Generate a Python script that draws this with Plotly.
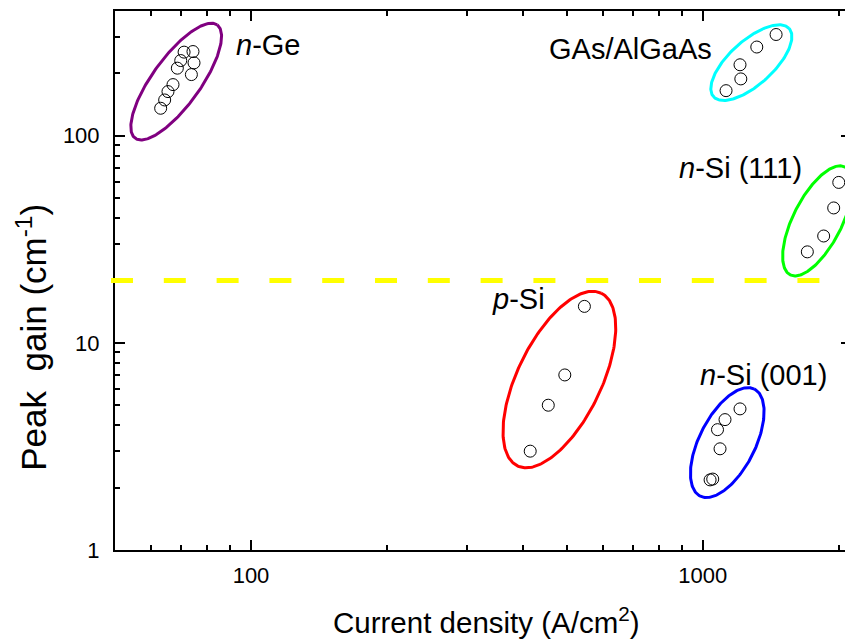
import numpy as np
import plotly.graph_objects as go

# ---------------- data ----------------
nge_x = [63.1, 64.4, 65.5, 67.2, 68.7, 69.9, 71.1, 74.4, 74.8, 73.8]
nge_y = [135.7, 148.8, 163.3, 176.5, 211.9, 230.6, 253.2, 254.9, 224.7, 197.3]
gaas_x = [1126, 1214, 1209, 1317, 1453]
gaas_y = [165, 188, 220, 268, 308]
nsi111_x = [1704, 1852, 1949, 2000]
nsi111_y = [27.5, 32.8, 44.8, 59.5]
psi_x = [415, 455, 495, 547]
psi_y = [3, 5, 7, 15]
nsi001_x = [1038, 1052, 1092, 1078, 1120, 1209]
nsi001_y = [2.18, 2.20, 3.08, 3.81, 4.26, 4.80]

threshold_gain = 20

x_ticks = [100, 1000]
x_ticktext = ["100", "1000"]
x_minor = [60, 70, 80, 90, 200, 300, 400, 500, 600, 700, 800, 900, 2000]
y_ticks = [1, 10, 100]
y_ticktext = ["1", "10", "100"]
y_minor = [2, 3, 4, 5, 6, 7, 8, 9, 20, 30, 40, 50, 60, 70, 80, 90, 200, 300]

# group ellipses: centre (data), semi-axes (px), tilt (deg), colour
groups = [
    dict(x=nge_x, y=nge_y, c=(68.3, 182.5), a=70, b=24, ang=54, col="#800080",
         label="<i>n</i>-Ge", lx=91.7, ly=274.7),
    dict(x=gaas_x, y=gaas_y, c=(1281, 225.3), a=51, b=22, ang=42, col="#00FFFF",
         label="GAs/AlGaAs", lx=452.4, ly=263.6),
    dict(x=nsi111_x, y=nsi111_y, c=(1795, 38.8), a=60.5, b=24.4, ang=63, col="#00FF00",
         label="<i>n</i>-Si (111)", lx=877.5, ly=69.8),
    dict(x=psi_x, y=psi_y, c=(481.5, 6.65), a=96, b=42, ang=64, col="#FF0000",
         label="<i>p</i>-Si", lx=338.1, ly=16.2),
    dict(x=nsi001_x, y=nsi001_y, c=(1133, 3.30), a=60, b=28, ang=63, col="#0000FF",
         label="<i>n</i>-Si (001)", lx=978.4, ly=7.03),
]

# ---------------- layout geometry (page pixels) ----------------
PAGE_W, PAGE_H = 853, 639
OFF = 8                       # default body margin of the html page
ML, MR, MT, MB = 115, 0, 11, 89   # plot area edges in page pixels
PW, PH = PAGE_W - ML - MR, PAGE_H - MT - MB
X_RANGE = [np.log10(50), np.log10(50) + PW / 453.0]
Y_RANGE = [0, np.log10(400)]
ppd_x = PW / (X_RANGE[1] - X_RANGE[0])
ppd_y = PH / (Y_RANGE[1] - Y_RANGE[0])


def ellipse(xc, yc, a, b, ang):
    t = np.linspace(0, 2 * np.pi, 240)
    th = np.radians(ang)
    dx = a * np.cos(t) * np.cos(th) - b * np.sin(t) * np.sin(th)
    dy = a * np.cos(t) * np.sin(th) + b * np.sin(t) * np.cos(th)
    return 10 ** (np.log10(xc) + dx / ppd_x), 10 ** (np.log10(yc) + dy / ppd_y)


FONT = "Arial, Liberation Sans, sans-serif"
fig = go.Figure()

for g in groups:
    ex, ey = ellipse(g["c"][0], g["c"][1], g["a"], g["b"], g["ang"])
    fig.add_trace(go.Scatter(x=ex, y=ey, mode="lines",
                             line=dict(color=g["col"], width=3),
                             hoverinfo="skip", showlegend=False))
    fig.add_trace(go.Scatter(x=g["x"], y=g["y"], mode="markers",
                             marker=dict(symbol="circle-open", size=12, color="black",
                                         line=dict(width=1, color="black")),
                             showlegend=False))
    fig.add_annotation(x=np.log10(g["lx"]), y=np.log10(g["ly"]), xref="x", yref="y",
                       text=g["label"], showarrow=False, xanchor="left", yanchor="middle",
                       font=dict(family=FONT, size=29, color="black"))

# threshold line (extends slightly past the left axis as in the reference)
fig.add_shape(type="line", xref="paper", yref="y",
              x0=-4 / PW, x1=1.0, y0=threshold_gain, y1=threshold_gain,
              line=dict(color="#FFFF00", width=5, dash="22px,30.8px"), layer="above")

axis_common = dict(type="log", showline=True, linecolor="black", linewidth=2,
                   mirror="ticks", ticks="inside", ticklen=10, tickwidth=2,
                   tickcolor="black", showgrid=False, zeroline=False,
                   tickfont=dict(family=FONT, size=22, color="black"))

fig.update_xaxes(range=X_RANGE, tickmode="array", tickvals=x_ticks, ticktext=x_ticktext,
                 ticklabelstandoff=5,
                 minor=dict(tickmode="array", tickvals=x_minor, ticks="inside",
                            ticklen=5, tickwidth=2, tickcolor="black"),
                 **axis_common)
fig.update_yaxes(range=Y_RANGE, tickmode="array", tickvals=y_ticks, ticktext=y_ticktext,
                 ticklabelstandoff=9,
                 minor=dict(tickmode="array", tickvals=y_minor, ticks="inside",
                            ticklen=5, tickwidth=2, tickcolor="black"),
                 **axis_common)

fig.add_annotation(xref="paper", yref="paper", x=(487.5 - ML) / PW, y=(MT + PH - 620.5) / PH,
                   text="Current density (A/cm<sup>2</sup>)", showarrow=False,
                   xanchor="center", yanchor="middle",
                   font=dict(family=FONT, size=29.5, color="black"))
fig.add_annotation(xref="paper", yref="paper", x=(31 - ML) / PW, y=(MT + PH - 337.5) / PH,
                   text="Peak  gain (cm<sup>-1</sup>)", showarrow=False, textangle=-90,
                   xanchor="center", yanchor="middle",
                   font=dict(family=FONT, size=35, color="black"))

fig.update_layout(width=PAGE_W - OFF, height=PAGE_H - OFF,
                  margin=dict(l=ML - OFF, r=MR, t=MT - OFF, b=MB),
                  paper_bgcolor="white", plot_bgcolor="white", showlegend=False)

fig.write_html("out.html")
